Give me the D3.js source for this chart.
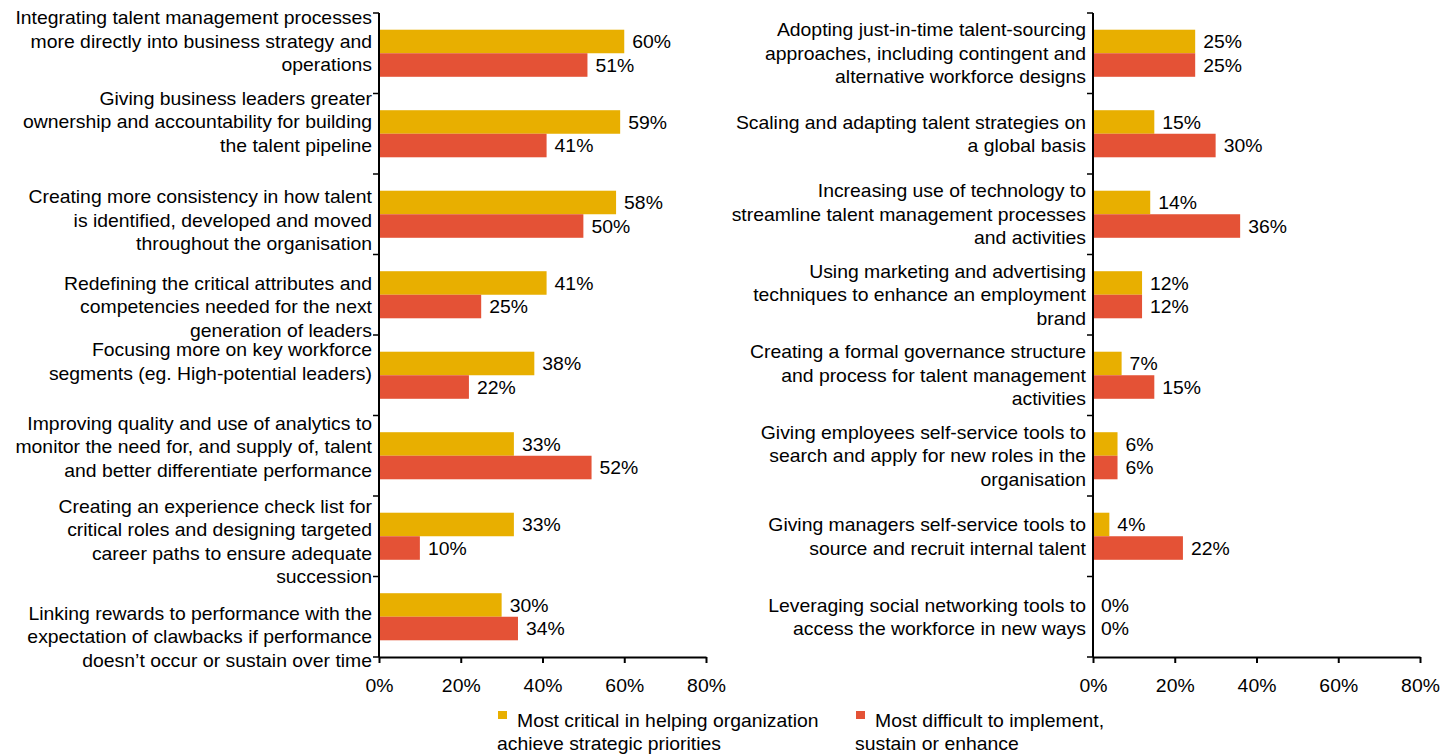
<!DOCTYPE html>
<html>
<head>
<meta charset="utf-8">
<script src="https://cdn.jsdelivr.net/npm/d3@7/dist/d3.min.js"></script>
<style>
  html, body { margin: 0; padding: 0; background: #fff; }
  svg { display: block; font-family: "Liberation Sans", Arial, sans-serif; }
</style>
</head>
<body>
<svg id="chart" width="1456" height="756"></svg>
<script>
// ---- data ----
const seriesNames = [
  ["Most critical in helping organization", "achieve strategic priorities"],
  ["Most difficult to implement,", "sustain or enhance"]
];

const leftCategories = [
  ["Integrating talent management processes", "more directly into business strategy and", "operations"],
  ["Giving business leaders greater", "ownership and accountability for building", "the talent pipeline"],
  ["Creating more consistency in how talent", "is identified, developed and moved", "throughout the organisation"],
  ["Redefining the critical attributes and", "competencies needed for the next", "generation of leaders"],
  ["Focusing more on key workforce", "segments (eg. High-potential leaders)"],
  ["Improving quality and use of analytics to", "monitor the need for, and supply of, talent", "and better differentiate performance"],
  ["Creating an experience check list for", "critical roles and designing targeted", "career paths to ensure adequate", "succession"],
  ["Linking rewards to performance with the", "expectation of clawbacks if performance", "doesn\u2019t occur or sustain over time"]
];
const leftCritical  = [60, 59, 58, 41, 38, 33, 33, 30];
const leftDifficult = [51, 41, 50, 25, 22, 52, 10, 34];

const rightCategories = [
  ["Adopting just-in-time talent-sourcing", "approaches, including contingent and", "alternative workforce designs"],
  ["Scaling and adapting talent strategies on", "a global basis"],
  ["Increasing use of technology to", "streamline talent management processes", "and activities"],
  ["Using marketing and advertising", "techniques to enhance an employment", "brand"],
  ["Creating a formal governance structure", "and process for talent management", "activities"],
  ["Giving employees self-service tools to", "search and apply for new roles in the", "organisation"],
  ["Giving managers self-service tools to", "source and recruit internal talent"],
  ["Leveraging social networking tools to", "access the workforce in new ways"]
];
const rightCritical  = [25, 15, 14, 12, 7, 6, 4, 0];
const rightDifficult = [25, 30, 36, 12, 15, 6, 22, 0];

const xTicks = [0, 20, 40, 60, 80];

// ---- layout & style ----
const colors = ["#E8AF00", "#E45236"];
const FONT = 19;
const SX = 1.02;          // slight horizontal widening of the type
const LINE = 23.5;
const plotTop = 13, plotBottom = 657;
// vertical nudge of each wrapped category label block (px)
const leftLabelNudge  = [-12, -12, 6, 12, -14, -9, 5, 20];
const rightLabelNudge = [0, 0, 0, 0, 0, 0, 0, 0];

const svg = d3.select("#chart");

function panel(categories, critical, difficult, x0, x1, nudge) {
  const g = svg.append("g");
  const idx = d3.range(categories.length);

  const x = d3.scaleLinear().domain([0, 80]).range([x0, x1]);
  const y = d3.scaleBand().domain(idx).range([plotTop, plotBottom]).paddingInner(0).paddingOuter(0);
  const ySub = d3.scaleBand().domain([0, 1]).range([0, y.bandwidth()]).paddingInner(0).paddingOuter(0.71);

  const rows = idx.map(i => ({ i, vals: [critical[i], difficult[i]] }));

  // bars
  const row = g.selectAll("g.row").data(rows).join("g")
    .attr("class", "row")
    .attr("transform", d => `translate(0,${y(d.i)})`);

  row.selectAll("rect").data(d => d.vals.map((v, s) => ({ v, s }))).join("rect")
    .attr("x", x(0))
    .attr("y", d => ySub(d.s))
    .attr("width", d => x(d.v) - x(0))
    .attr("height", ySub.bandwidth())
    .attr("fill", d => colors[d.s]);

  // value labels
  row.selectAll("text.val").data(d => d.vals.map((v, s) => ({ v, s }))).join("text")
    .attr("class", "val")
    .attr("transform", d => `translate(${x(d.v) + 8},0) scale(${SX},1)`)
    .attr("y", d => ySub(d.s) + ySub.bandwidth() / 2)
    .attr("dy", "0.35em")
    .attr("font-size", FONT)
    .attr("fill", "#000")
    .text(d => d.v + "%");

  // x axis
  const xAxis = d3.axisBottom(x).tickValues(xTicks).tickFormat(d => d + "%")
    .tickSize(6).tickSizeOuter(0).tickPadding(16);
  const ax = g.append("g").attr("transform", `translate(0,${plotBottom})`).call(xAxis);
  ax.select(".domain").attr("stroke", "#000").attr("stroke-width", 2);
  ax.selectAll(".tick line").attr("stroke", "#000").attr("stroke-width", 2);
  ax.selectAll(".tick text").attr("font-size", FONT).attr("fill", "#000")
    .attr("transform", `scale(${SX},1)`)
    .attr("font-family", "Liberation Sans, Arial, sans-serif");

  // y axis line and category boundary ticks
  g.append("line")
    .attr("x1", x(0)).attr("x2", x(0))
    .attr("y1", plotTop).attr("y2", plotBottom)
    .attr("stroke", "#000").attr("stroke-width", 2);
  const bounds = idx.map(i => y(i)).concat([plotBottom]);
  g.selectAll("line.ytick").data(bounds).join("line")
    .attr("class", "ytick")
    .attr("x1", x(0) - 6).attr("x2", x(0))
    .attr("y1", d => d).attr("y2", d => d)
    .attr("stroke", "#000").attr("stroke-width", 1.5);

  // category labels
  const lab = g.selectAll("text.cat").data(idx).join("text")
    .attr("class", "cat")
    .attr("text-anchor", "end")
    .attr("transform", `translate(${x(0) - 7},0) scale(${SX},1)`)
    .attr("font-size", FONT)
    .attr("fill", "#000");
  lab.each(function (i) {
    const lines = categories[i];
    const cy = y(i) + y.bandwidth() / 2 + nudge[i];
    d3.select(this).selectAll("tspan").data(lines).join("tspan")
      .attr("x", 0)
      .attr("y", (d, k) => cy + (k - (lines.length - 1) / 2) * LINE)
      .attr("dy", "0.35em")
      .text(d => d);
  });
}

panel(leftCategories, leftCritical, leftDifficult, 379, 706, leftLabelNudge);
panel(rightCategories, rightCritical, rightDifficult, 1093, 1420, rightLabelNudge);

// legend
const legendX = [497, 855];
const leg = svg.selectAll("g.legend").data(seriesNames).join("g")
  .attr("class", "legend")
  .attr("transform", (d, i) => `translate(${legendX[i]},0)`);
leg.append("rect")
  .attr("x", 1).attr("y", 711).attr("width", 9).attr("height", 8)
  .attr("fill", (d, i) => colors[i]);
leg.append("text")
  .attr("transform", `scale(${SX},1)`)
  .attr("font-size", FONT).attr("fill", "#000")
  .selectAll("tspan").data(d => d).join("tspan")
  .attr("x", (d, k) => k === 0 ? 20 / SX : 0)
  .attr("y", (d, k) => 720 + k * 23.5)
  .attr("dy", "0.35em")
  .text(d => d);
</script>
</body>
</html>
